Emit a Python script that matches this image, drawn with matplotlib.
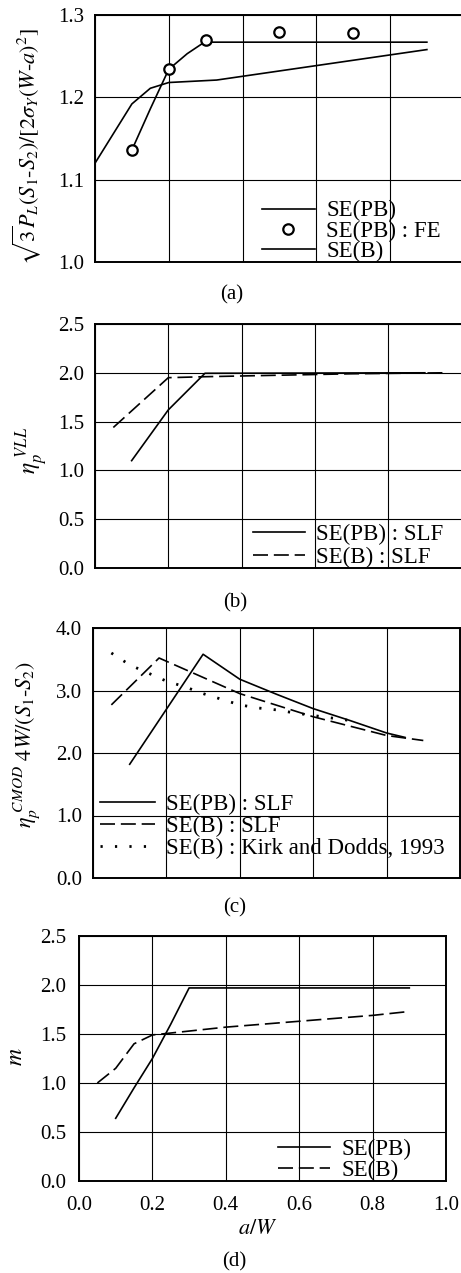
import matplotlib
matplotlib.use("Agg")
import matplotlib.pyplot as plt

plt.rcParams["font.family"] = ["Liberation Serif", "DejaVu Serif"]
plt.rcParams["mathtext.fontset"] = "stix"

# (a) limit load
a_pb_x = [0.1, 0.15, 0.2, 0.25, 0.3, 0.32, 0.9]
a_pb_y = [1.136, 1.186, 1.234, 1.253, 1.268, 1.267, 1.267]
a_fe_x = [0.1, 0.2, 0.3, 0.5, 0.7]
a_fe_y = [1.136, 1.234, 1.270, 1.279, 1.278]
a_b_x = [0.0, 0.1, 0.15, 0.2, 0.33, 0.9]
a_b_y = [1.120, 1.192, 1.211, 1.218, 1.221, 1.258]

# (b) eta_p VLL
b_pb_x = [0.1, 0.2, 0.3, 0.9]
b_pb_y = [1.10, 1.62, 1.995, 2.0]
b_b_x = [0.05, 0.2, 0.3, 0.5, 0.7, 0.95]
b_b_y = [1.44, 1.95, 1.96, 1.975, 1.99, 2.0]

# (c) eta_p CMOD
c_pb_x = [0.1, 0.3, 0.4, 0.5, 0.6, 0.7, 0.8, 0.85]
c_pb_y = [1.82, 3.58, 3.18, 2.94, 2.71, 2.52, 2.32, 2.25]
c_b_x = [0.05, 0.18, 0.4, 0.6, 0.8, 0.9]
c_b_y = [2.77, 3.52, 2.95, 2.58, 2.28, 2.20]
c_kd_x = [0.05, 0.1, 0.15, 0.2, 0.25, 0.3, 0.35, 0.4, 0.45, 0.5, 0.55, 0.6, 0.65, 0.7]
c_kd_y = [3.60, 3.41, 3.28, 3.15, 3.06, 2.95, 2.86, 2.77, 2.72, 2.69, 2.64, 2.60, 2.56, 2.52]

# (d) m
d_pb_x = [0.1, 0.15, 0.2, 0.25, 0.3, 0.9]
d_pb_y = [0.64, 0.95, 1.25, 1.60, 1.97, 1.97]
d_b_x = [0.05, 0.1, 0.15, 0.2, 0.3, 0.4, 0.6, 0.8, 0.9]
d_b_y = [1.0, 1.15, 1.40, 1.49, 1.53, 1.57, 1.63, 1.69, 1.73]

x_ticks = [0.0, 0.2, 0.4, 0.6, 0.8, 1.0]

W, H = 461, 1273
fig = plt.figure(figsize=(W / 100, H / 100), dpi=100)


def px_axes(left, right, top, bottom):
    return fig.add_axes([left / W, 1 - bottom / H, (right - left) / W, (bottom - top) / H])


def style(ax, ylim, yticks, pad, xlabels=False):
    ax.set_xlim(0, 1)
    ax.set_ylim(*ylim)
    ax.set_xticks(x_ticks)
    ax.set_yticks(yticks)
    ax.set_yticklabels([f"{v:.1f}" for v in yticks])
    ax.set_xticklabels([f"{v:.1f}" for v in x_ticks])
    ax.tick_params(length=0, labelsize=15, pad=pad, labelbottom=xlabels)
    ax.tick_params(axis="x", pad=11)
    ax.grid(True, color="black", lw=0.8)
    ax.set_axisbelow(True)
    for s in ax.spines.values():
        s.set_linewidth(1.4)


LW = 1.2
DASH = (0, (9, 3.5))
leg_kw = dict(frameon=False, fontsize=16.5, loc="lower left", borderpad=0,
              borderaxespad=0, handletextpad=0.5)

# (a)
ax = px_axes(95, 463.75, 15, 262)
ax.plot(a_pb_x, a_pb_y, color="black", lw=LW, label="SE(PB)")
ax.plot(a_fe_x, a_fe_y, ls="none", marker="o", ms=7.5, mfc="white", mec="black",
        mew=1.6, label="SE(PB) : FE")
ax.plot(a_b_x, a_b_y, color="black", lw=LW, label="SE(B)")
style(ax, (1.0, 1.3), [1.0, 1.1, 1.2, 1.3], 7.5)
ax.legend(bbox_to_anchor=(0.453, 0.0), handlelength=2.3, labelspacing=-0.04, **leg_kw)

# (b)
ax = px_axes(95, 461.5, 324, 568)
ax.plot(b_pb_x, b_pb_y, color="black", lw=LW, label="SE(PB) : SLF")
ax.plot(b_b_x, b_b_y, color="black", lw=LW, ls=DASH, label="SE(B) : SLF")
style(ax, (0.0, 2.5), [0.0, 0.5, 1.0, 1.5, 2.0, 2.5], 7.5)
ax.legend(bbox_to_anchor=(0.431, 0.0), handlelength=2.27, labelspacing=0.07, **leg_kw)

# (c)
ax = px_axes(93, 460, 628, 878)
ax.plot(c_pb_x, c_pb_y, color="black", lw=LW, label="SE(PB) : SLF")
ax.plot(c_b_x, c_b_y, color="black", lw=LW, ls=DASH, label="SE(B) : SLF")
ax.plot(c_kd_x, c_kd_y, color="black", lw=2.0, ls=(0, (0.8, 4.4)),
        label="SE(B) : Kirk and Dodds, 1993")
style(ax, (0.0, 4.0), [0.0, 1.0, 2.0, 3.0, 4.0], 8)
ax.legend(bbox_to_anchor=(0.019, 0.074), handlelength=2.4, labelspacing=0.04, **leg_kw)

# (d)
ax = px_axes(79, 446, 936, 1181)
ax.plot(d_pb_x, d_pb_y, color="black", lw=LW, label="SE(PB)")
ax.plot(d_b_x, d_b_y, color="black", lw=LW, ls=DASH, label="SE(B)")
style(ax, (0.0, 2.5), [0.0, 0.5, 1.0, 1.5, 2.0, 2.5], 9, xlabels=True)
ax.legend(bbox_to_anchor=(0.542, 0.0), handlelength=2.27, labelspacing=0.01, **leg_kw)


def ftext(x, y, s, **kw):
    fig.text(x / W, 1 - y / H, s, ha="center", va="center", **kw)


ftext(27, 147, r"$\sqrt{3}P_L(S_1\text{-}S_2)/[2\sigma_Y(W\text{-}a)^2]$", fontsize=16, rotation=90)
ftext(32, 450, r"$\eta_p^{\ VLL}$", fontsize=17, rotation=90)
ftext(27, 745, r"$\eta_p^{\ CMOD}\ 4W/(S_1\text{-}S_2)$", fontsize=16, rotation=90)
ftext(17, 1057, r"$m$", fontsize=17, rotation=90)
ftext(258, 1229, r"$a/W$", fontsize=16)

ftext(232, 295, "(a)", fontsize=15)
ftext(235, 603, "(b)", fontsize=15)
ftext(235, 908, "(c)", fontsize=15)
ftext(234, 1262, "(d)", fontsize=15)

fig.savefig("out.png", dpi=100)
